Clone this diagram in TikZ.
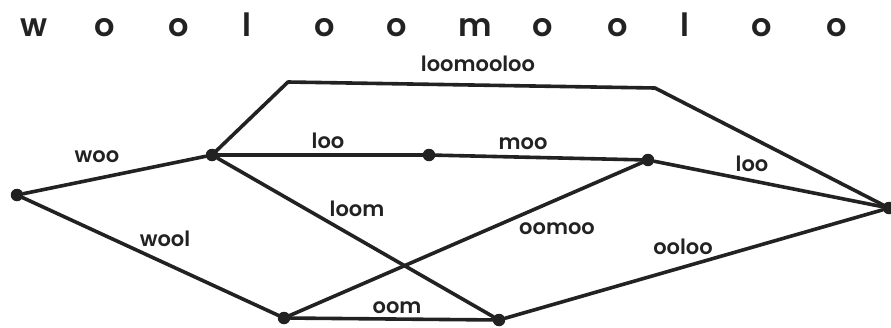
\documentclass[tikz,border=0pt]{standalone}
\usepackage{fontspec}
\setmainfont{Poppins}[UprightFont=* SemiBold]
\definecolor{ink}{HTML}{222222}
\begin{document}
\begin{tikzpicture}[x=1pt,y=-1pt,
  edge/.style={draw=ink,line width=3.6pt,line join=round,line cap=round},
  dot/.style={circle,fill=ink,inner sep=0pt,minimum size=12.5pt},
  lab/.style={text=ink,font=\fontsize{21}{21}\selectfont,inner sep=0pt},
  big/.style={text=ink,font=\fontsize{32}{32}\selectfont,inner sep=0pt,anchor=base}]
\useasboundingbox (0,0) rectangle (891,327);
% top letters
\foreach \ch/\xx [count=\i] in {w/34,o/105,o/179,l/247,o/325,o/397,m/475,o/543,o/618,l/685,o/762,o/837}
  \node[big] (t\i) at (\xx,36) {\ch};
% vertices
\node[dot] (A) at (17,195) {};
\node[dot] (B) at (212,155) {};
\node[dot] (C) at (429,155) {};
\node[dot] (D) at (648,160) {};
\node[dot] (E) at (889,208) {};
\node[dot] (F) at (284,318) {};
\node[dot] (G) at (499,320) {};
\coordinate (P) at (288,82);
\coordinate (Q) at (655,88);
% edges
\draw[edge] (A) -- (B);
\draw[edge] (A) -- (F);
\draw[edge] (B) -- (C);
\draw[edge] (C) -- (D);
\draw[edge] (D) -- (E);
\draw[edge] (B) -- (G);
\draw[edge] (F) -- (D);
\draw[edge] (F) -- (G);
\draw[edge] (G) -- (E);
\draw[edge] (B.center) -- (P) -- (Q) -- (E.center);
% labels
\node[lab] (l1) at (478,64) {loomooloo};
\node[lab] (l2) at (97,157) {woo};
\node[lab] (l3) at (328,141) {loo};
\node[lab] (l4) at (523,144) {moo};
\node[lab] (l5) at (752,164) {loo};
\node[lab] (l6) at (357,209) {loom};
\node[lab] (l7) at (557,229) {oomoo};
\node[lab] (l8) at (165,239) {wool};
\node[lab] (l9) at (683,247) {ooloo};
\node[lab] (l10) at (397,308) {oom};
\end{tikzpicture}
\end{document}
